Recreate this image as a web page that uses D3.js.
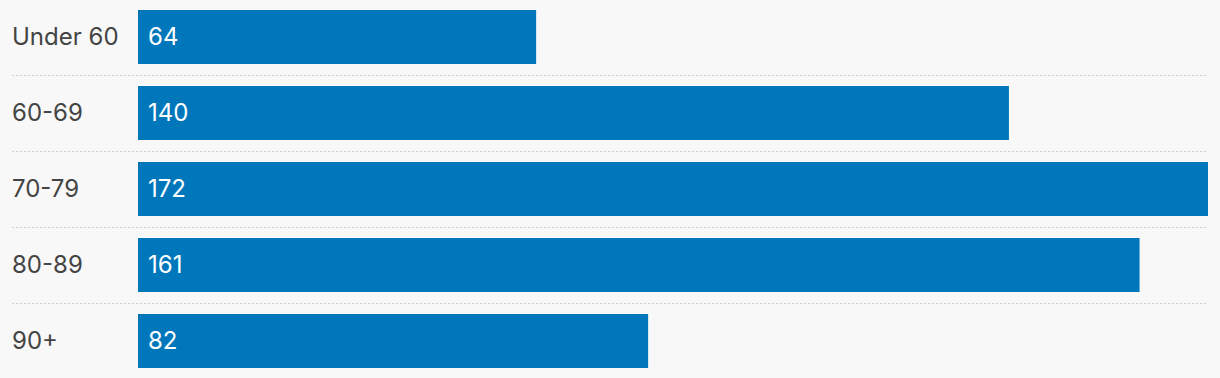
<!DOCTYPE html>
<html>
<head>
<meta charset="utf-8">
<style>
  html, body { margin: 0; padding: 0; background: #f8f8f8; }
  svg { display: block; font-family: Inter, "Noto Sans", sans-serif; }
</style>
</head>
<body>
<div class="chart"></div>
<script src="https://d3js.org/d3.v7.min.js"></script>
<script>
  // data
  const ageGroups = ["Under 60", "60-69", "70-79", "80-89", "90+"]
  const counts = [64, 140, 172, 161, 82]

  const width = 1220,
        height = 378,
        left = 138,
        right = 1208,
        barH = 54,
        gap = 22

  const svg = d3.select('.chart')
                .append('svg')
                .attr('width', width)
                .attr('height', height)

  const data = ageGroups.map((g, i) => ({ group: g, value: counts[i] }))

  const xScale = d3.scaleLinear()
                   .domain([0, d3.max(counts)])
                   .range([left, right])

  const yScale = d3.scaleBand()
                   .domain(ageGroups)
                   .range([10, 10 + ageGroups.length * (barH + gap) - gap])
                   .paddingInner(gap / (barH + gap))
                   .paddingOuter(0)

  // dotted separators between rows
  svg.selectAll('line.sep')
     .data(data.slice(1))
     .join('line')
     .attr('class', 'sep')
     .attr('x1', 12)
     .attr('x2', right)
     .attr('y1', d => yScale(d.group) - gap / 2 + 0.5)
     .attr('y2', d => yScale(d.group) - gap / 2 + 0.5)
     .attr('stroke', '#cfcfcf')
     .attr('stroke-width', 1)
     .attr('stroke-dasharray', '2,2')

  // bars
  svg.selectAll('rect')
     .data(data)
     .join('rect')
     .attr('x', xScale(0))
     .attr('y', d => yScale(d.group))
     .attr('width', d => xScale(d.value) - xScale(0))
     .attr('height', yScale.bandwidth())
     .attr('fill', '#0077bb')

  // category labels
  svg.selectAll('text.cat')
     .data(data)
     .join('text')
     .attr('class', 'cat')
     .attr('x', 12)
     .attr('y', d => yScale(d.group) + yScale.bandwidth() / 2)
     .attr('dy', '0.35em')
     .attr('font-size', 24)
     .attr('fill', '#444')
     .text(d => d.group)

  // value labels inside bars
  svg.selectAll('text.val')
     .data(data)
     .join('text')
     .attr('class', 'val')
     .attr('x', xScale(0) + 10)
     .attr('y', d => yScale(d.group) + yScale.bandwidth() / 2)
     .attr('dy', '0.35em')
     .attr('font-size', 24)
     .attr('fill', '#fff')
     .text(d => d.value)
</script>
</body>
</html>
